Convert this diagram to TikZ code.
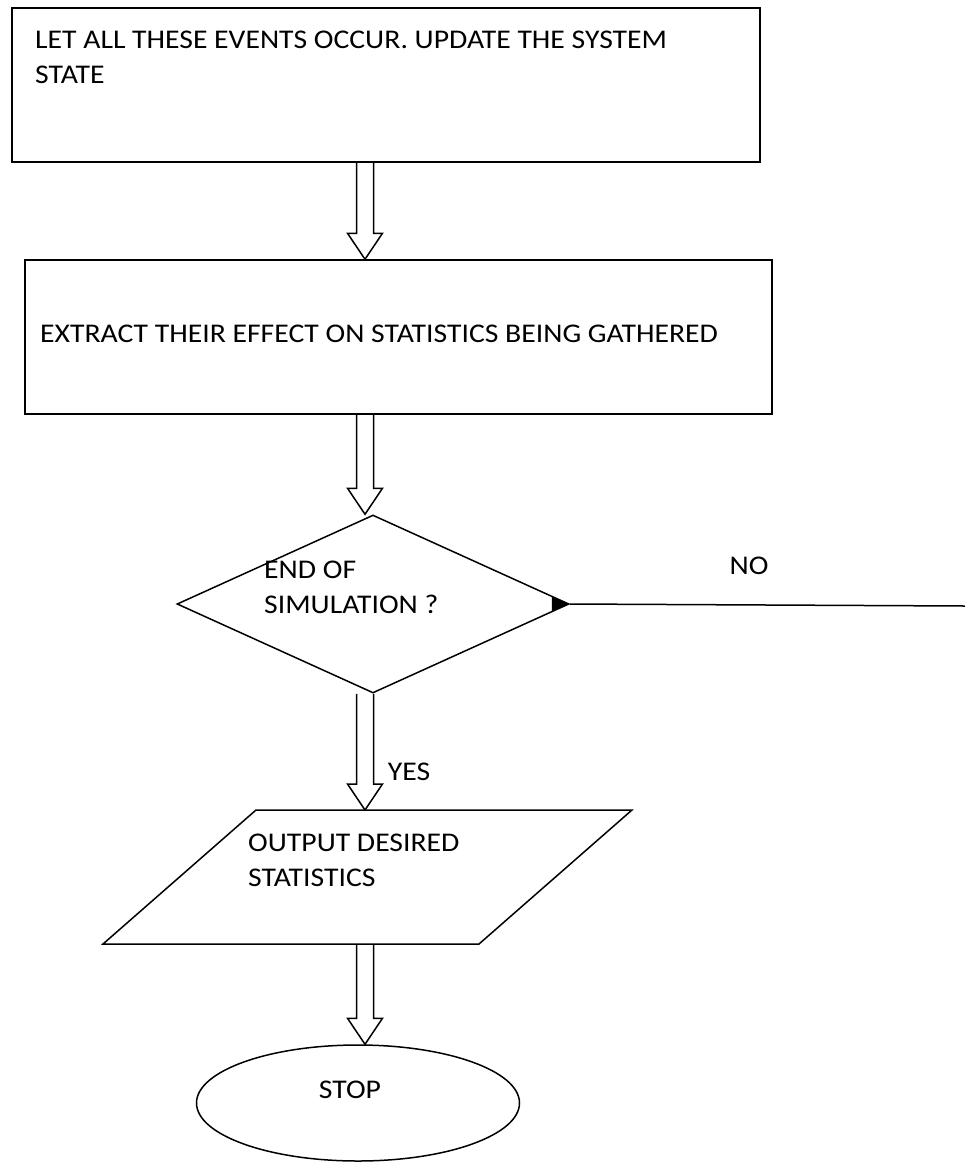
\documentclass[tikz,border=0pt]{standalone}
\usepackage{fontspec}
\setmainfont{Carlito}[FakeStretch=1.1]
\usetikzlibrary{shapes.geometric,arrows.meta,calc}
\tikzset{
  procbox/.style={draw, line width=1.5pt, rectangle, minimum width=#1, minimum height=154pt, inner sep=0pt},
  txt/.style={inner sep=0pt, align=left, font=\fontsize{27}{35}\selectfont},
  shapeline/.style={draw, line width=1.5pt},
  harrow/.style={draw, line width=1.5pt, line join=miter},
}
\newcommand{\hollowarrow}[2]{%
  \draw[harrow] let \p1=(#1), \p2=(#2) in
    (365pt-8.5pt,\y1) -- (365pt-8.5pt,\y2+26pt) -- (365pt-17.5pt,\y2+26pt) -- (365pt,\y2)
    -- (365pt+17.5pt,\y2+26pt) -- (365pt+8.5pt,\y2+26pt) -- (365pt+8.5pt,\y1);}
\begin{document}
\begin{tikzpicture}[x=1pt,y=-1pt]
\useasboundingbox (0,0) rectangle (965,1163);
% boxes
\node[procbox=748pt] (box1) at (386,85) {};
\node[txt, anchor=north west] (t1) at (35,31) {LET ALL THESE EVENTS OCCUR. UPDATE THE SYSTEM\\STATE};
\node[procbox=747pt] (box2) at (398.5,337) {};
\node[txt, anchor=base west] (t2) at (40,342) {EXTRACT THEIR EFFECT ON STATISTICS BEING GATHERED};
% decision
\node[shapeline, diamond, minimum width=392pt, minimum height=178pt, inner sep=0pt] (dec) at (373,604) {};
\node[txt, anchor=north west] (t3) at (264,561) {END OF\\SIMULATION ?};
\coordinate (noend) at (965,606);
\draw[line width=1.5pt] (dec.east) -- (noend);
\draw[-{Triangle[length=18pt,width=14pt]}, line width=1pt] ($(dec.east)+(-18,0)$) -- (dec.east);
\node[txt] (no) at (749,566) {NO};
% output
\coordinate (pTL) at (256,810);
\coordinate (pTR) at (632,810);
\coordinate (pBR) at (479,944);
\coordinate (pBL) at (103,944);
\draw[line width=1.5pt, line join=miter] (pTL) -- (pTR) -- (pBR) -- (pBL) -- cycle;
\coordinate (outtop) at (365,810);
\coordinate (outbot) at (365,944);
\node[txt, anchor=north west] (t4) at (248,834) {OUTPUT DESIRED\\STATISTICS};
% stop
\node[shapeline, ellipse, minimum width=323pt, minimum height=116pt, inner sep=0pt] (stop) at (358,1103) {};
\node[txt] (t5) at (350,1090) {STOP};
% hollow arrows
\hollowarrow{box1.south}{box2.north}
\hollowarrow{box2.south}{dec.north}
\hollowarrow{dec.south}{outtop}
\hollowarrow{outbot}{stop.north}
\node[txt] (yes) at (409,772) {YES};
\end{tikzpicture}
\end{document}
